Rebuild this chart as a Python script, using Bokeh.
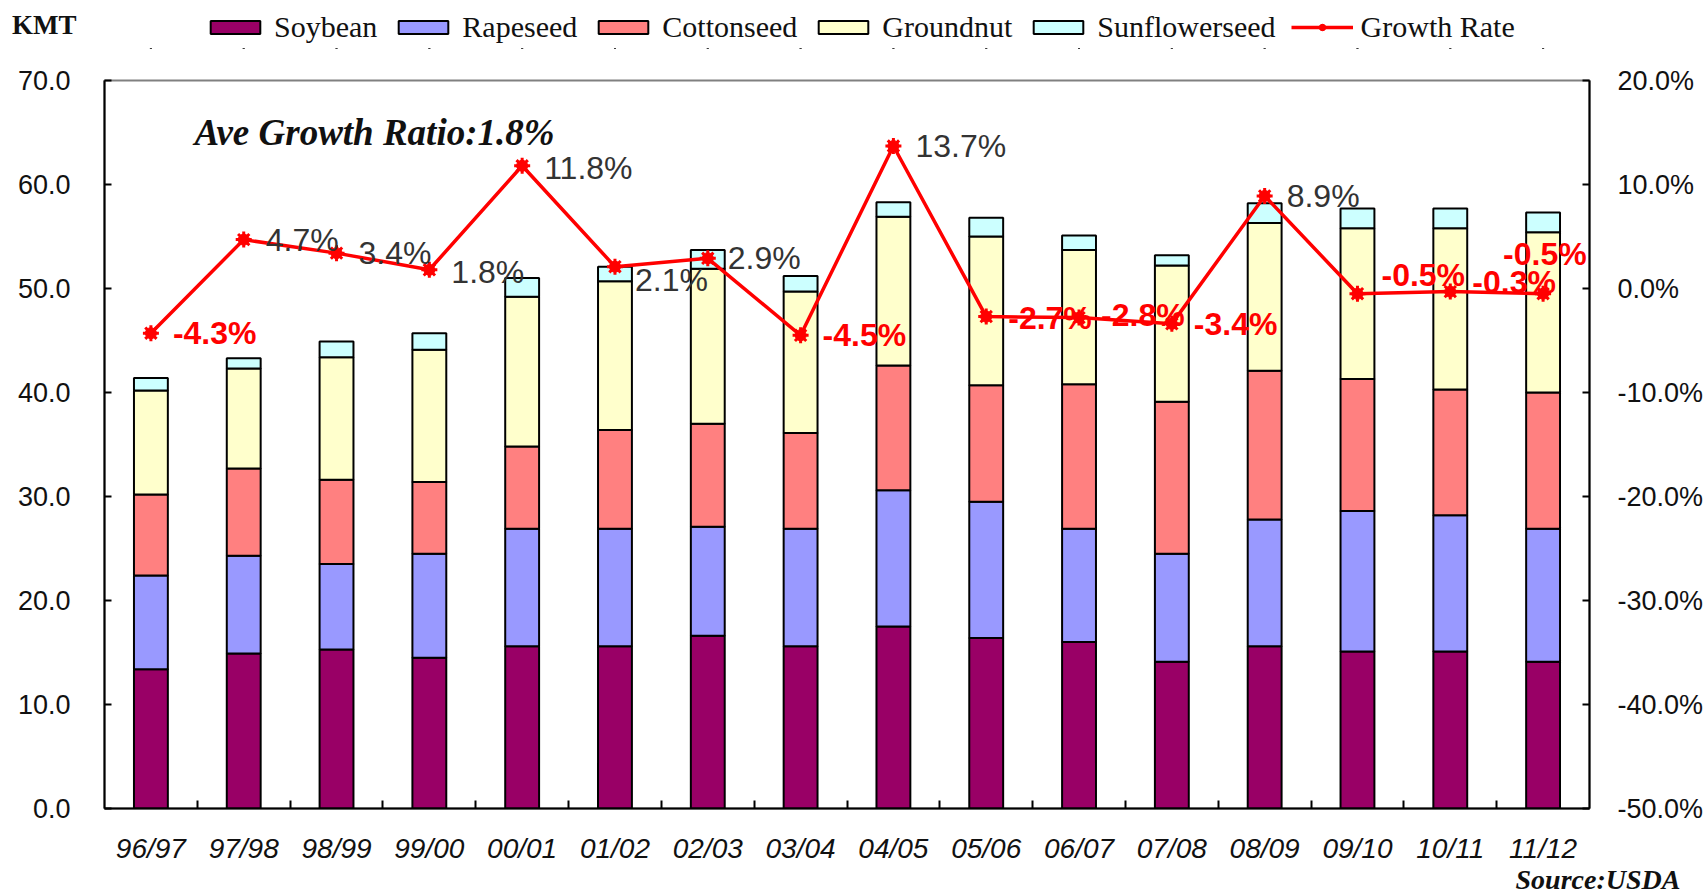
from bokeh.plotting import figure
from bokeh.layouts import column
from bokeh.models import (FactorRange, Range1d, LinearAxis, CategoricalAxis, FixedTicker,
                          SingleIntervalTicker, PrintfTickFormatter, Legend, LegendItem,
                          Label, Title, ColumnDataSource)
from bokeh.core.properties import value
from bokeh.embed import file_html
from bokeh.resources import INLINE

# ---------------- data ----------------
seasons = ["96/97", "97/98", "98/99", "99/00", "00/01", "01/02", "02/03", "03/04",
           "04/05", "05/06", "06/07", "07/08", "08/09", "09/10", "10/11", "11/12"]
soybean = [13.4, 14.9, 15.3, 14.5, 15.6, 15.6, 16.6, 15.6, 17.5, 16.4, 16.0, 14.1, 15.6, 15.1, 15.1, 14.1]
rapeseed = [9.0, 9.4, 8.2, 10.0, 11.3, 11.3, 10.5, 11.3, 13.1, 13.1, 10.9, 10.4, 12.2, 13.5, 13.1, 12.8]
cottonseed = [7.8, 8.4, 8.1, 6.9, 7.9, 9.5, 9.9, 9.2, 12.0, 11.2, 13.9, 14.6, 14.3, 12.7, 12.1, 13.1]
groundnut = [10.0, 9.6, 11.8, 12.7, 14.4, 14.3, 14.9, 13.6, 14.3, 14.3, 12.9, 13.1, 14.2, 14.5, 15.5, 15.4]
sunflowerseed = [1.2, 1.0, 1.5, 1.6, 1.8, 1.4, 1.8, 1.5, 1.4, 1.8, 1.4, 1.0, 1.9, 1.9, 1.9, 1.9]
growth_rate = [-4.3, 4.7, 3.4, 1.8, 11.8, 2.1, 2.9, -4.5, 13.7, -2.7, -2.8, -3.4, 8.9, -0.5, -0.3, -0.5]

series_names = ["Soybean", "Rapeseed", "Cottonseed", "Groundnut", "Sunflowerseed"]
series_colors = ["#990066", "#9999FF", "#FF8080", "#FFFFCC", "#CCFFFF"]

# label placement tweaks (screen px) for the growth labels
lbl_dx = [22, 22, 22, 22, 22, 20, 20, 22, 22, 22, 22, 22, 22, 24, 22, -40]
lbl_dy = [0, 0, 0, 2, 2, 13, 0, 0, 0, 1, -3, 0, 0, -19, -10, -40]

src = ColumnDataSource(dict(
    season=seasons, Soybean=soybean, Rapeseed=rapeseed, Cottonseed=cottonseed,
    Groundnut=groundnut, Sunflowerseed=sunflowerseed, growth=growth_rate,
    glabel=["%.1f%%" % g for g in growth_rate],
    gcolor=["#FF0000" if g < 0 else "#333333" for g in growth_rate],
    gstyle=["bold" if g < 0 else "normal" for g in growth_rate],
    dx=lbl_dx, dy=lbl_dy,
))

SANS = "Liberation Sans"
SERIF = "Liberation Serif"
TOP_H = 62


def draw_series(fig, y_range_name="default", bar_width=0.365, line_width=3.5, marker_scale=1.0):
    """Stacked bars + growth line/markers; returns (bar renderers, growth renderers)."""
    bars = fig.vbar_stack(series_names, x="season", width=bar_width, source=src,
                          fill_color=series_colors, line_color="black", line_width=2)
    gl = fig.line(x="season", y="growth", source=src, y_range_name=y_range_name,
                  line_color="#FF0000", line_width=line_width)
    gm1 = fig.scatter(x="season", y="growth", source=src, y_range_name=y_range_name,
                      marker="circle", size=11 * marker_scale, fill_color="#FF0000",
                      line_color="#FF0000")
    gm2 = fig.scatter(x="season", y="growth", source=src, y_range_name=y_range_name,
                      marker="asterisk", size=16 * marker_scale, line_color="#FF0000", line_width=3)
    return bars, [gl, gm1, gm2]


# ---------------- header strip: unit label + legend ----------------
# (its y-range lies far above the data, so its own copies of the series stay out of view
#  and only serve as legend swatches)
top = figure(width=1706, height=TOP_H, x_range=FactorRange(factors=seasons),
             y_range=Range1d(1000, 1001), output_backend="svg", toolbar_location=None,
             x_axis_location=None, y_axis_location=None,
             min_border_left=0, min_border_right=0, min_border_top=0, min_border_bottom=14,
             background_fill_color="white", border_fill_color="white")
top.xgrid.grid_line_color = None
top.ygrid.grid_line_color = None
top.outline_line_color = None
top_bars, top_growth = draw_series(top, bar_width=0, marker_scale=1.3)

kaxis = LinearAxis(ticker=FixedTicker(ticks=[1000.5]), major_label_overrides={1000.5: "KMT"})
kaxis.axis_line_color = None
kaxis.major_tick_line_color = None
kaxis.minor_tick_line_color = None
kaxis.major_tick_out = 0
kaxis.major_tick_in = 0
kaxis.major_label_standoff = 28
kaxis.major_label_text_font = SERIF
kaxis.major_label_text_font_style = "bold"
kaxis.major_label_text_font_size = "27px"
kaxis.major_label_text_color = "#111111"
top.add_layout(kaxis, "left")

items = [LegendItem(label=n, renderers=[r]) for n, r in zip(series_names, top_bars)]
items.append(LegendItem(label="Growth Rate", renderers=top_growth))
legend = Legend(items=items, orientation="horizontal", location=(100, 4),
                glyph_width=62, glyph_height=16, label_standoff=8, spacing=15,
                padding=0, margin=0, border_line_color=None, background_fill_alpha=0,
                label_text_font=SERIF, label_text_font_size="30px", label_text_color="#111111")
top.add_layout(legend)

# ---------------- main chart ----------------
p = figure(width=1706, height=892 - TOP_H, x_range=FactorRange(factors=seasons),
           y_range=Range1d(0, 70), output_backend="svg", toolbar_location=None,
           x_axis_location=None, y_axis_location=None,
           min_border_left=104, min_border_right=114, min_border_top=80 - TOP_H,
           min_border_bottom=84,
           background_fill_color="white", border_fill_color="white")
p.xgrid.grid_line_color = None
p.ygrid.grid_line_color = None
p.outline_line_color = "#808080"
p.outline_line_width = 2

p.extra_y_ranges = {"pct": Range1d(-50, 20)}

yl = LinearAxis(ticker=SingleIntervalTicker(interval=10), formatter=PrintfTickFormatter(format="%.1f"))
yr = LinearAxis(y_range_name="pct", ticker=SingleIntervalTicker(interval=10),
                formatter=PrintfTickFormatter(format="%.1f%%"))
for ax, st in ((yl, 30), (yr, 24)):
    ax.major_tick_in = 7
    ax.major_tick_out = 0
    ax.minor_tick_line_color = None
    ax.axis_line_width = 2
    ax.axis_line_color = "black"
    ax.major_tick_line_width = 2
    ax.major_label_standoff = st
    ax.major_label_text_font = SANS
    ax.major_label_text_font_size = "27px"
    ax.major_label_text_color = "#111111"
p.add_layout(yl, "left")
p.add_layout(yr, "right")

# boundary ticks between categories (synthetic coordinates) + category labels
xt = LinearAxis(ticker=FixedTicker(ticks=list(range(1, len(seasons)))))
xt.major_tick_in = 8
xt.major_tick_out = 0
xt.minor_tick_line_color = None
xt.major_tick_line_width = 2
xt.axis_line_width = 2
xt.axis_line_color = "black"
xt.major_label_text_font_size = "0px"
xt.major_label_standoff = 0
p.add_layout(xt, "below")

xc = CategoricalAxis()
xc.axis_line_color = None
xc.major_tick_line_color = None
xc.major_tick_out = 0
xc.major_tick_in = 0
xc.major_label_standoff = 24
xc.major_label_text_font = SANS
xc.major_label_text_font_style = "italic"
xc.major_label_text_font_size = "28px"
xc.major_label_text_color = "#111111"
p.add_layout(xc, "below")

draw_series(p, "pct")

p.text(x="season", y="growth", text="glabel", source=src, y_range_name="pct",
       x_offset="dx", y_offset="dy", text_color="gcolor", text_font_style="gstyle",
       text_font=value(SANS), text_font_size=value("32px"), text_baseline="middle", text_align="left")

p.add_layout(Title(text="Source:USDA", align="left", offset=1411, standoff=-10,
                   text_font=SERIF, text_font_style="bold italic", text_font_size="28px",
                   text_color="#111111"), "below")

p.add_layout(Label(x=90, y=676, x_units="screen", y_units="screen", text="Ave Growth Ratio:1.8%",
                   text_font=SERIF, text_font_style="bold italic", text_font_size="37px",
                   text_baseline="alphabetic", text_color="#111111"))

page = column(top, p, spacing=0)
open("out.html", "w").write(file_html(page, INLINE))
